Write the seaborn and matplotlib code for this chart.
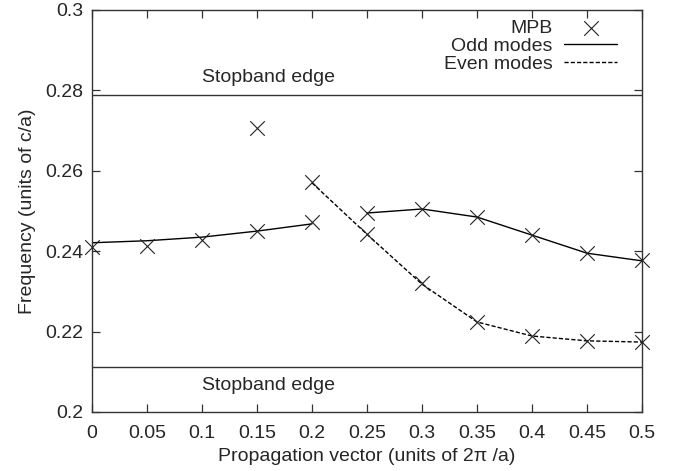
import matplotlib
matplotlib.use("Agg")
import matplotlib.pyplot as plt
import seaborn as sns
import pandas as pd
import numpy as np

# ---- data ----
mpb_k = [0.0, 0.05, 0.1, 0.15, 0.15, 0.2, 0.2, 0.25, 0.25, 0.3, 0.3, 0.35, 0.35,
         0.4, 0.4, 0.45, 0.45, 0.5, 0.5]
mpb_f = [0.2411, 0.2414, 0.2428, 0.2450, 0.2706, 0.2472, 0.2573, 0.2496, 0.2442,
         0.2504, 0.2320, 0.2486, 0.2225, 0.2441, 0.2188, 0.2395, 0.2177, 0.2377, 0.2174]

odd1_k = [0.0, 0.05, 0.1, 0.15, 0.2]
odd1_f = [0.2421, 0.2426, 0.2435, 0.2450, 0.2468]
odd2_k = [0.25, 0.3, 0.35, 0.4, 0.45, 0.5]
odd2_f = [0.2495, 0.2505, 0.2485, 0.2440, 0.2395, 0.2376]
even_k = [0.2, 0.25, 0.3, 0.35, 0.4, 0.45, 0.5]
even_f = [0.2570, 0.2442, 0.2318, 0.2224, 0.2189, 0.2177, 0.2174]

stopband_upper = 0.2789
stopband_lower = 0.2113

x_ticks = [0, 0.05, 0.1, 0.15, 0.2, 0.25, 0.3, 0.35, 0.4, 0.45, 0.5]
x_tick_labels = ["0", "0.05", "0.1", "0.15", "0.2", "0.25", "0.3", "0.35", "0.4", "0.45", "0.5"]
y_ticks = [0.2, 0.22, 0.24, 0.26, 0.28, 0.3]
y_tick_labels = ["0.2", "0.22", "0.24", "0.26", "0.28", "0.3"]

# ---- style ----
sns.set_style("ticks")
plt.rcParams['font.family'] = ['Liberation Sans', 'DejaVu Sans']
FS = 14

fig = plt.figure(figsize=(6.85, 4.71), dpi=100)
ax = fig.add_axes([92/685, 1-412/471, 550/685, 402/471])

lw = 1.0
# stopband edges
ax.axhline(stopband_upper, color="#333333", lw=1.0, zorder=1)
ax.axhline(stopband_lower, color="#333333", lw=1.0, zorder=1)

df_mpb = pd.DataFrame({"k": mpb_k, "f": mpb_f})
df_odd1 = pd.DataFrame({"k": odd1_k, "f": odd1_f})
df_odd2 = pd.DataFrame({"k": odd2_k, "f": odd2_f})
df_even = pd.DataFrame({"k": even_k, "f": even_f})

sns.lineplot(data=df_odd1, x="k", y="f", ax=ax, color="black", lw=lw, label="Odd modes")
sns.lineplot(data=df_odd2, x="k", y="f", ax=ax, color="black", lw=lw, label="_nolegend_")
sns.lineplot(data=df_even, x="k", y="f", ax=ax, color="black", lw=lw,
             linestyle=(0, (3, 1.5)), label="Even modes")
sns.scatterplot(data=df_mpb, x="k", y="f", ax=ax, marker="x", s=110, color="#222222",
                linewidth=0.8, label="MPB", zorder=5, clip_on=False)

ax.set_xlim(0, 0.5)
ax.set_ylim(0.2, 0.3)
ax.set_xticks(x_ticks)
ax.set_xticklabels(x_tick_labels)
ax.set_yticks(y_ticks)
ax.set_yticklabels(y_tick_labels)
ax.tick_params(axis="both", direction="in", top=True, right=True, length=6,
               width=0.9, color="#333333", labelsize=FS)
ax.tick_params(axis="x", pad=9)
ax.tick_params(axis="y", pad=6)
for s in ax.spines.values():
    s.set_color("#333333")
    s.set_linewidth(1.0)

ax.set_xlabel("Propagation vector (units of 2π /a)", fontsize=FS, labelpad=5)
ax.set_ylabel("Frequency (units of c/a)", fontsize=FS, labelpad=7)

ax.text(0.1, 0.2831, "Stopband edge", fontsize=FS, va="center", ha="left")
ax.text(0.1, 0.2066, "Stopband edge", fontsize=FS, va="center", ha="left")

# legend in order MPB, Odd, Even with text left of sample
handles, labels = ax.get_legend_handles_labels()
order = [labels.index("MPB"), labels.index("Odd modes"), labels.index("Even modes")]
leg = ax.legend([handles[i] for i in order], [labels[i] for i in order],
                loc="upper right", bbox_to_anchor=(0.972, 1.0), frameon=False,
                markerfirst=False, fontsize=FS, handlelength=2.7, handletextpad=0.6,
                labelspacing=0.0, borderaxespad=0.1)

fig.savefig("out.png", dpi=100)
